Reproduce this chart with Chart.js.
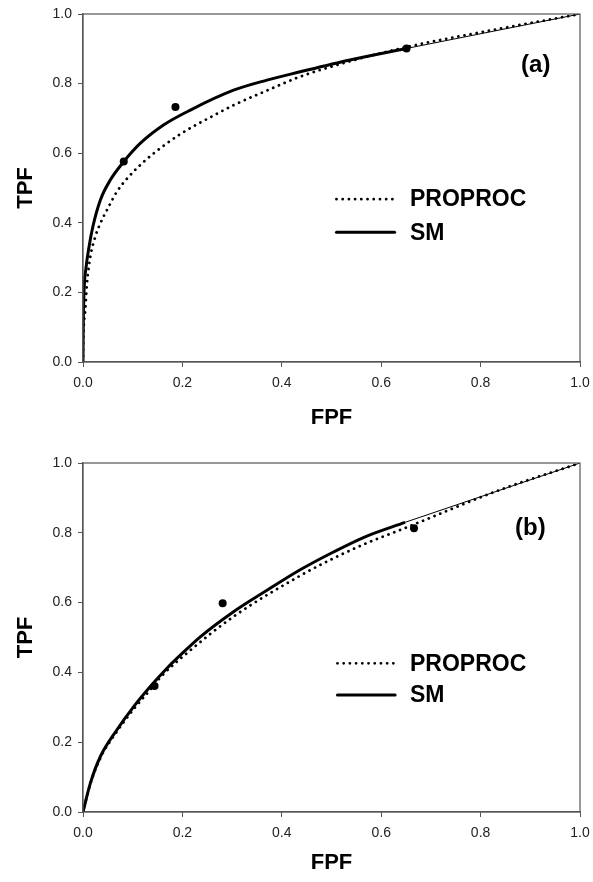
<!DOCTYPE html>
<html lang="en">
<head>
<meta charset="UTF-8">
<title>ROC curves</title>
<script src="https://cdn.jsdelivr.net/npm/chart.js@4.4.1/dist/chart.umd.min.js"></script>
<style>
  body { margin: 0; background: #fff; }
  .panel { width: 593px; height: 441px; }
</style>
</head>
<body>
<div class="panel"><canvas id="chartA" width="593" height="441"></canvas></div>
<div class="panel"><canvas id="chartB" width="593" height="441"></canvas></div>
<script>
// panel (a)
const smA_x  = [0, 0.0005, 0.002, 0.006, 0.012, 0.02, 0.0348, 0.0549, 0.0816, 0.115, 0.162, 0.216, 0.303, 0.37, 0.437, 0.537, 0.651];
const smA_y  = [0, 0.1, 0.2, 0.27, 0.33, 0.39, 0.465, 0.523, 0.575, 0.628, 0.681, 0.724, 0.781, 0.81, 0.834, 0.868, 0.901];
const proA_x = [0, 0.0008, 0.0046, 0.008, 0.0147, 0.0247, 0.0348, 0.0516, 0.068, 0.0917, 0.122, 0.159, 0.196, 0.232, 0.252, 0.303, 0.37, 0.437, 0.537, 0.651, 0.839, 1];
const proA_y = [0, 0.07, 0.149, 0.225, 0.302, 0.36, 0.398, 0.446, 0.489, 0.532, 0.575, 0.618, 0.655, 0.685, 0.70, 0.738, 0.78, 0.82, 0.864, 0.905, 0.958, 1];
const ptsA_x = [0.082, 0.186, 0.651];
const ptsA_y = [0.576, 0.733, 0.901];

// panel (b)
const smB_x  = [0, 0.0147, 0.035, 0.068, 0.102, 0.135, 0.169, 0.2, 0.236, 0.303, 0.371, 0.437, 0.504, 0.57, 0.648];
const smB_y  = [0, 0.082, 0.159, 0.235, 0.302, 0.359, 0.412, 0.455, 0.502, 0.574, 0.636, 0.694, 0.745, 0.79, 0.83];
const proB_x = [0, 0.0147, 0.035, 0.068, 0.102, 0.135, 0.155, 0.209, 0.303, 0.437, 0.504, 0.57, 0.638, 0.839, 1];
const proB_y = [0, 0.08, 0.155, 0.23, 0.295, 0.35, 0.385, 0.455, 0.56, 0.677, 0.727, 0.77, 0.808, 0.923, 1];
const ptsB_x = [0.144, 0.281, 0.666];
const ptsB_y = [0.361, 0.598, 0.813];

const axisTicks = [0, 0.2, 0.4, 0.6, 0.8, 1.0];
const seriesNames = ["PROPROC", "SM"];

const FONT = "'Liberation Sans', Arial, sans-serif";
const DOT_DASH = [0.01, 6.2];

function pts(xs, ys) {
  return xs.map((x, i) => ({ x: x, y: ys[i] }));
}

// box around plot, panel label and legend inside the plot
const decor = {
  id: "decor",
  afterDraw(chart, args, opts) {
    const c = chart.ctx, a = chart.chartArea;
    const sx = chart.scales.x, sy = chart.scales.y;
    c.save();
    c.strokeStyle = "#555";
    c.lineWidth = 1.2;
    c.strokeRect(a.left, a.top, a.right - a.left, a.bottom - a.top);

    c.fillStyle = "#000";
    c.font = "bold 24px " + FONT;
    c.textAlign = "center";
    c.textBaseline = "middle";
    c.fillText(opts.label, sx.getPixelForValue(opts.labelAt[0]), sy.getPixelForValue(opts.labelAt[1]));

    const x0 = sx.getPixelForValue(opts.legendLine[0]);
    const x1 = sx.getPixelForValue(opts.legendLine[1]);
    const tx = sx.getPixelForValue(opts.legendText);
    c.font = "bold 23px " + FONT;
    c.textAlign = "left";
    c.lineCap = "round";
    seriesNames.forEach((name, i) => {
      const y = sy.getPixelForValue(opts.legendRows[i]);
      c.beginPath();
      c.setLineDash(i === 0 ? DOT_DASH : []);
      c.lineWidth = i === 0 ? 2.8 : 3;
      c.strokeStyle = "#000";
      c.moveTo(x0, y);
      c.lineTo(x1, y);
      c.stroke();
      c.fillText(name, tx, y + 1);
    });
    c.restore();
  }
};

function makeChart(id, sm, pro, dots, pad, xHeight, titleBottom, decorOpts) {
  const smEnd = sm[sm.length - 1];
  return new Chart(document.getElementById(id), {
    type: "scatter",
    data: {
      datasets: [
        { label: "tail", data: [smEnd, { x: 1, y: 1 }], showLine: true, borderColor: "#000", borderWidth: 1, pointRadius: 0 },
        { label: seriesNames[1], data: sm, showLine: true, borderColor: "#000", borderWidth: 3, pointRadius: 0, cubicInterpolationMode: "monotone" },
        { label: seriesNames[0], data: pro, showLine: true, borderColor: "#000", borderWidth: 2.8, borderDash: DOT_DASH, borderCapStyle: "round", pointRadius: 0, cubicInterpolationMode: "monotone" },
        { label: "data", data: dots, showLine: false, pointRadius: 4, backgroundColor: "#000", borderColor: "#000", borderWidth: 0 }
      ]
    },
    options: {
      responsive: false,
      animation: false,
      layout: { padding: { top: pad, right: 13, left: 0, bottom: 0 } },
      plugins: { legend: { display: false }, tooltip: { enabled: false }, decor: decorOpts },
      scales: {
        x: {
          type: "linear", min: 0, max: 1,
          afterBuildTicks: s => { s.ticks = axisTicks.map(v => ({ value: v })); },
          afterFit: s => { s.height = xHeight; s.paddingLeft = 0; s.paddingRight = 0; },
          ticks: { font: { family: FONT, size: 14 }, color: "#222", padding: 8, maxRotation: 0, callback: v => v.toFixed(1) },
          grid: { drawOnChartArea: false, drawTicks: true, tickLength: 5, color: "#555" },
          border: { display: true, color: "#555", width: 1.2 },
          title: { display: true, text: "FPF", color: "#000", font: { family: FONT, size: 22, weight: "bold" }, padding: { top: 0, bottom: titleBottom } }
        },
        y: {
          type: "linear", min: 0, max: 1,
          afterBuildTicks: s => { s.ticks = axisTicks.map(v => ({ value: v })); },
          afterFit: s => { s.width = 83; s.paddingTop = 0; s.paddingBottom = 0; },
          ticks: { font: { family: FONT, size: 14 }, color: "#222", padding: 6, callback: v => v.toFixed(1) },
          grid: { drawOnChartArea: false, drawTicks: true, tickLength: 5, color: "#555" },
          border: { display: true, color: "#555", width: 1.2 },
          title: { display: true, text: "TPF", color: "#000", font: { family: FONT, size: 22, weight: "bold" }, padding: { top: 13, bottom: 0 } }
        }
      }
    },
    plugins: [decor]
  });
}

makeChart("chartA", pts(smA_x, smA_y), pts(proA_x, proA_y), pts(ptsA_x, ptsA_y), 14, 79, 10,
  { label: "(a)", labelAt: [0.911, 0.851], legendLine: [0.51, 0.627], legendText: 0.658, legendRows: [0.468, 0.373] });
makeChart("chartB", pts(smB_x, smB_y), pts(proB_x, proB_y), pts(ptsB_x, ptsB_y), 22, 70, 6,
  { label: "(b)", labelAt: [0.9, 0.814], legendLine: [0.512, 0.628], legendText: 0.658, legendRows: [0.426, 0.335] });
</script>
</body>
</html>
